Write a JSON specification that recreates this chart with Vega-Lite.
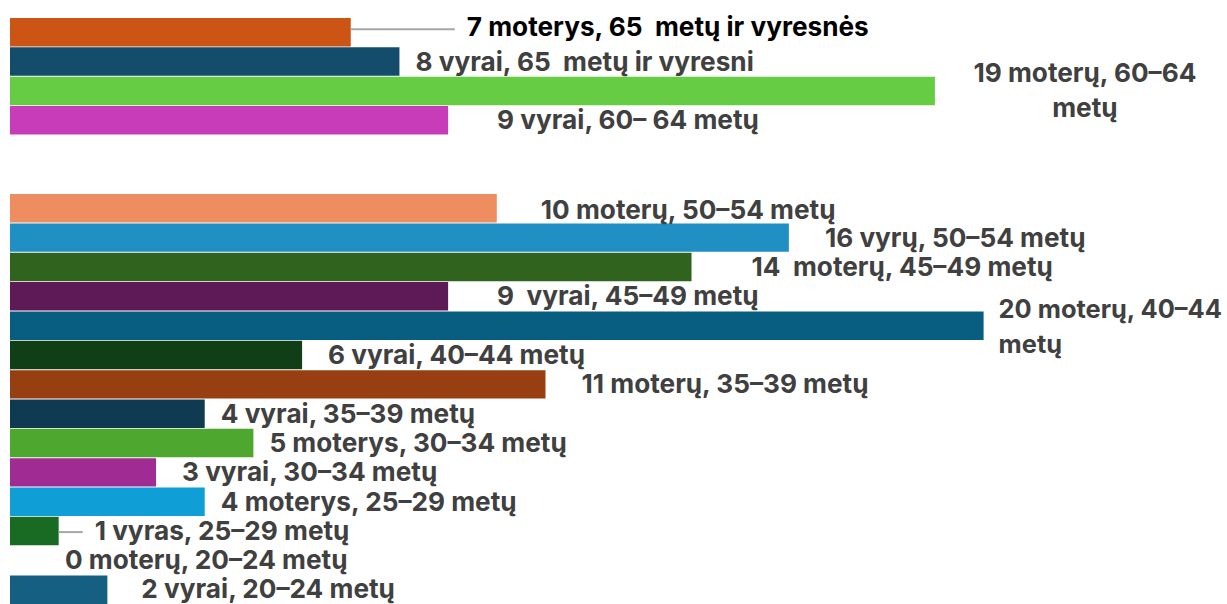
{
  "$schema": "https://vega.github.io/schema/vega-lite/v6.json",
  "width": 1217,
  "height": 586,
  "autosize": {"type": "none"},
  "padding": {"left": 10, "top": 18, "right": 0, "bottom": 0},
  "background": "white",
  "config": {"view": {"stroke": null}, "text": {"font": "Inter", "fontSize": 26.2, "fontWeight": "bold", "color": "#404040", "baseline": "middle", "align": "left", "lineBreak": "\n", "lineHeight": 35}},
  "data": {"values": [
    {"grupė": "moterys 65+", "skaičius": 7, "etiketė": "7 moterys, 65 \u00a0metų ir vyresnės"},
    {"grupė": "vyrai 65+", "skaičius": 8, "etiketė": "8 vyrai, 65 \u00a0metų ir vyresni"},
    {"grupė": "moterys 60–64", "skaičius": 19, "etiketė": "19 moterų, 60–64\nmetų"},
    {"grupė": "vyrai 60–64", "skaičius": 9, "etiketė": "9 vyrai, 60– 64 metų"},
    {"grupė": "moterys 50–54", "skaičius": 10, "etiketė": "10 moterų, 50–54 metų"},
    {"grupė": "vyrai 50–54", "skaičius": 16, "etiketė": "16 vyrų, 50–54 metų"},
    {"grupė": "moterys 45–49", "skaičius": 14, "etiketė": "14 \u00a0moterų, 45–49 metų"},
    {"grupė": "vyrai 45–49", "skaičius": 9, "etiketė": "9 \u00a0vyrai, 45–49 metų"},
    {"grupė": "moterys 40–44", "skaičius": 20, "etiketė": "20 moterų, 40–44\nmetų"},
    {"grupė": "vyrai 40–44", "skaičius": 6, "etiketė": "6 vyrai, 40–44 metų"},
    {"grupė": "moterys 35–39", "skaičius": 11, "etiketė": "11 moterų, 35–39 metų"},
    {"grupė": "vyrai 35–39", "skaičius": 4, "etiketė": "4 vyrai, 35–39 metų"},
    {"grupė": "moterys 30–34", "skaičius": 5, "etiketė": "5 moterys, 30–34 metų"},
    {"grupė": "vyrai 30–34", "skaičius": 3, "etiketė": "3 vyrai, 30–34 metų"},
    {"grupė": "moterys 25–29", "skaičius": 4, "etiketė": "4 moterys, 25–29 metų"},
    {"grupė": "vyrai 25–29", "skaičius": 1, "etiketė": "1 vyras, 25–29 metų"},
    {"grupė": "moterys 20–24", "skaičius": 0, "etiketė": "0 moterų, 20–24 metų"},
    {"grupė": "vyrai 20–24", "skaičius": 2, "etiketė": "2 vyrai, 20–24 metų"}
  ]},
  "encoding": {
    "y": {"field": "grupė", "type": "nominal", "axis": null,
      "scale": {"domain": ["moterys 65+", "vyrai 65+", "moterys 60–64", "vyrai 60–64", "moterys 55–59", "vyrai 55–59", "moterys 50–54", "vyrai 50–54", "moterys 45–49", "vyrai 45–49", "moterys 40–44", "vyrai 40–44", "moterys 35–39", "vyrai 35–39", "moterys 30–34", "vyrai 30–34", "moterys 25–29", "vyrai 25–29", "moterys 20–24", "vyrai 20–24"], "paddingInner": 0.03, "paddingOuter": 0}},
    "x": {"field": "skaičius", "type": "quantitative", "axis": null, "scale": {"domain": [0, 25], "nice": false}}
  },
  "layer": [
    {
      "mark": {"type": "bar"},
      "encoding": {
        "color": {"field": "grupė", "type": "nominal", "legend": null,
          "scale": {"domain": ["moterys 65+", "vyrai 65+", "moterys 60–64", "vyrai 60–64", "moterys 50–54", "vyrai 50–54", "moterys 45–49", "vyrai 45–49", "moterys 40–44", "vyrai 40–44", "moterys 35–39", "vyrai 35–39", "moterys 30–34", "vyrai 30–34", "moterys 25–29", "vyrai 25–29", "moterys 20–24", "vyrai 20–24"],
          "range": ["#CC5415", "#144D6B", "#66CC44", "#C83CBA", "#EE8D5F", "#1F8FC4", "#30641E", "#5E1A56", "#085E80", "#103E16", "#973F10", "#0F3A52", "#4EA72E", "#A02B93", "#0F9ED5", "#196B24", "#156082", "#156082"]}}
      }
    },
    {
      "transform": [{"filter": {"field": "grupė", "oneOf": ["moterys 65+"]}}],
      "mark": {"type": "rule", "color": "#A6A6A6", "strokeWidth": 2, "x2Offset": 104, "yOffset": -3},
      "encoding": {"x2": {"field": "skaičius"}}
    },
    {
      "transform": [{"filter": {"field": "grupė", "oneOf": ["vyrai 25–29"]}}],
      "mark": {"type": "rule", "color": "#A6A6A6", "strokeWidth": 2, "x2Offset": 24, "yOffset": 1},
      "encoding": {"x2": {"field": "skaičius"}}
    },
    {
      "transform": [{"filter": {"field": "grupė", "oneOf": ["moterys 65+"]}}],
      "mark": {"type": "text", "dx": 116, "dy": -4, "color": "#000000"},
      "encoding": {"text": {"field": "etiketė"}}
    },
    {
      "transform": [{"filter": {"field": "grupė", "oneOf": ["moterys 60–64"]}}],
      "mark": {"type": "text", "dx": 150, "dy": -17, "align": "center"},
      "encoding": {"text": {"field": "etiketė"}}
    },
    {
      "transform": [{"filter": {"field": "grupė", "oneOf": ["moterys 40–44"]}}],
      "mark": {"type": "text", "dx": 15, "dy": -16, "fontSize": 25.4},
      "encoding": {"text": {"field": "etiketė"}}
    },
    {
      "transform": [{"filter": {"field": "grupė", "oneOf": ["vyrai 65+", "vyrai 35–39", "moterys 30–34", "moterys 25–29"]}}],
      "mark": {"type": "text", "dx": 16, "dy": 1},
      "encoding": {"text": {"field": "etiketė"}}
    },
    {
      "transform": [{"filter": {"field": "grupė", "oneOf": ["vyrai 40–44", "vyrai 30–34"]}}],
      "mark": {"type": "text", "dx": 26, "dy": 1},
      "encoding": {"text": {"field": "etiketė"}}
    },
    {
      "transform": [{"filter": {"field": "grupė", "oneOf": ["vyrai 50–54", "moterys 35–39", "vyrai 25–29"]}}],
      "mark": {"type": "text", "dx": 36, "dy": 1},
      "encoding": {"text": {"field": "etiketė"}}
    },
    {
      "transform": [{"filter": {"field": "grupė", "oneOf": ["vyrai 20–24"]}}],
      "mark": {"type": "text", "dx": 34, "dy": 0},
      "encoding": {"text": {"field": "etiketė"}}
    },
    {
      "transform": [{"filter": {"field": "grupė", "oneOf": ["moterys 50–54"]}}],
      "mark": {"type": "text", "dx": 44, "dy": 3},
      "encoding": {"text": {"field": "etiketė"}}
    },
    {
      "transform": [{"filter": {"field": "grupė", "oneOf": ["vyrai 60–64", "vyrai 45–49"]}}],
      "mark": {"type": "text", "dx": 49, "dy": 1},
      "encoding": {"text": {"field": "etiketė"}}
    },
    {
      "transform": [{"filter": {"field": "grupė", "oneOf": ["moterys 20–24"]}}],
      "mark": {"type": "text", "dx": 55, "dy": 1},
      "encoding": {"text": {"field": "etiketė"}}
    },
    {
      "transform": [{"filter": {"field": "grupė", "oneOf": ["moterys 45–49"]}}],
      "mark": {"type": "text", "dx": 60, "dy": 1},
      "encoding": {"text": {"field": "etiketė"}}
    }
  ]
}
